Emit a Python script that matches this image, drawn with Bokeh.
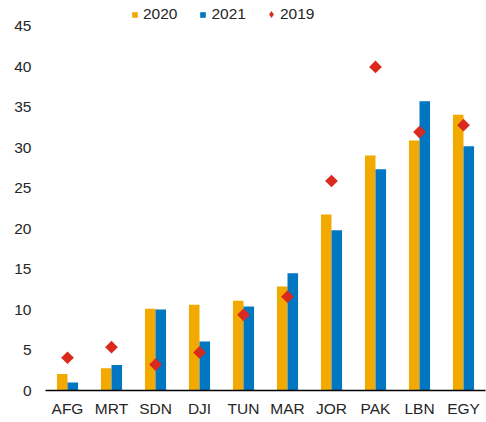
import math
from bokeh.plotting import figure
from bokeh.models import ColumnDataSource, FactorRange, Legend, LegendItem, FixedTicker
from bokeh.transform import dodge
from bokeh.embed import file_html
from bokeh.resources import INLINE

countries = ["AFG", "MRT", "SDN", "DJI", "TUN", "MAR", "JOR", "PAK", "LBN", "EGY"]
v2020 = [2.05, 2.75, 10.1, 10.6, 11.1, 12.85, 21.75, 29.05, 30.9, 34.1]
v2021 = [1.0, 3.15, 10.0, 6.05, 10.4, 14.5, 19.8, 27.35, 35.75, 30.2]
v2019 = [4.05, 5.35, 3.2, 4.7, 9.35, 11.6, 25.9, 40.0, 31.95, 32.8]
y_ticks = [0, 5, 10, 15, 20, 25, 30, 35, 40, 45]

ORANGE = "#F2A900"
BLUE = "#0077C0"
RED = "#DA2A1E"
FONT = "Liberation Sans"
TXT = "#262626"

src = ColumnDataSource(dict(c=countries, a=v2020, b=v2021, d=v2019))

p = figure(
    x_range=FactorRange(*countries),
    y_range=(0, 48.214),
    width=486, height=422,
    output_backend="svg", toolbar_location=None,
    min_border_left=45, min_border_right=1, min_border_top=0, min_border_bottom=32,
)
p.outline_line_color = None
p.xgrid.visible = False
p.ygrid.visible = False
p.background_fill_color = "white"

r20 = p.vbar(x=dodge("c", -0.12, range=p.x_range), top="a", width=0.24, source=src,
             fill_color=ORANGE, line_color=None)
r21 = p.vbar(x=dodge("c", 0.12, range=p.x_range), top="b", width=0.24, source=src,
             fill_color=BLUE, line_color=None)
# small diamonds hidden underneath the rotated squares; used for the legend symbol
r19_leg = p.scatter(x="c", y="d", marker="diamond", size=5, source=src,
                    fill_color=RED, line_color=None)
r19 = p.scatter(x="c", y="d", marker="square", size=9, angle=math.pi / 4, source=src,
                fill_color=RED, line_color=None)

# axes
p.yaxis.ticker = FixedTicker(ticks=y_ticks)
p.yaxis.axis_line_color = None
p.yaxis.major_tick_line_color = None
p.yaxis.minor_tick_line_color = None
p.yaxis.major_tick_out = 0
p.yaxis.major_tick_in = 0
p.yaxis.major_label_standoff = 14
p.yaxis.major_label_text_font = FONT
p.yaxis.major_label_text_font_size = "15.5px"
p.yaxis.major_label_text_color = TXT

p.xaxis.axis_line_color = "black"
p.xaxis.axis_line_width = 1.6
p.xaxis.major_tick_line_color = None
p.xaxis.minor_tick_line_color = None
p.xaxis.major_tick_out = 0
p.xaxis.major_tick_in = 0
p.xaxis.major_label_standoff = 9
p.xaxis.major_label_text_font = FONT
p.xaxis.major_label_text_font_size = "15.5px"
p.xaxis.major_label_text_color = TXT

# legends
leg_bars = Legend(
    items=[LegendItem(label="2020", renderers=[r20]), LegendItem(label="2021", renderers=[r21])],
    orientation="horizontal", location=(86, 367),
    glyph_width=7, glyph_height=7, label_standoff=5, spacing=22,
    label_text_font=FONT, label_text_font_size="15.5px", label_text_color=TXT,
    label_height=14, padding=0, margin=0,
    border_line_color=None, background_fill_alpha=0,
)
leg_dia = Legend(
    items=[LegendItem(label="2019", renderers=[r19_leg])],
    orientation="horizontal", location=(217, 367),
    glyph_width=18, glyph_height=18, label_standoff=-1,
    label_text_font=FONT, label_text_font_size="15.5px", label_text_color=TXT,
    label_height=14, padding=0, margin=0,
    border_line_color=None, background_fill_alpha=0,
)
p.add_layout(leg_bars, "center")
p.add_layout(leg_dia, "center")

open("out.html", "w").write(file_html(p, INLINE))
